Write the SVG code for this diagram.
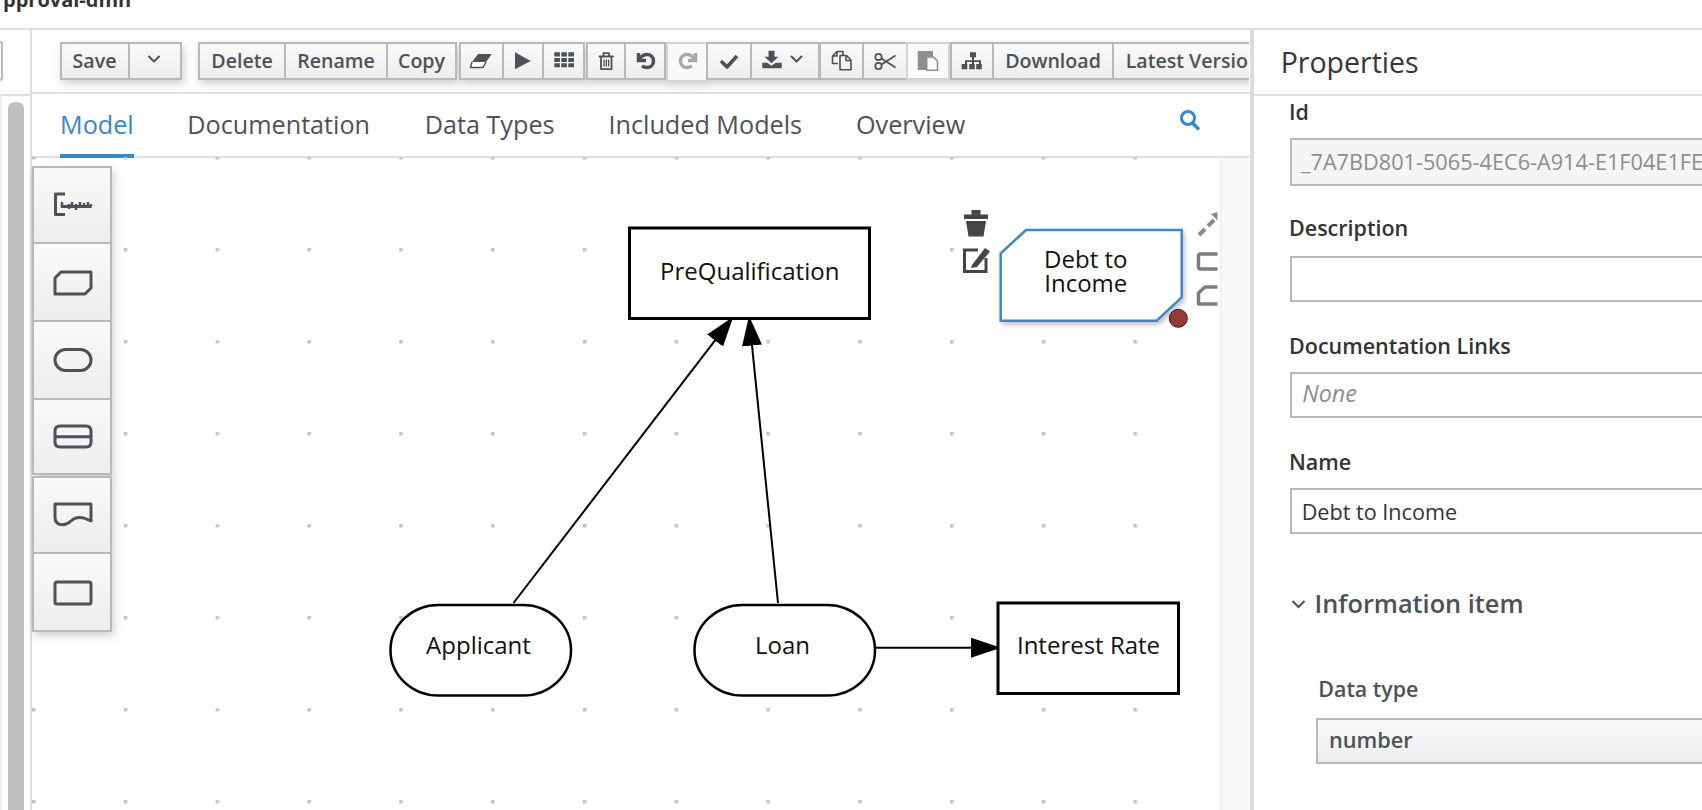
<svg xmlns="http://www.w3.org/2000/svg" width="1702" height="810" viewBox="0 0 1702 810">
<style>
text{font-family:"Open Sans","Noto Sans","Liberation Sans",sans-serif}
.rule{stroke:#dfdfdf;stroke-width:2;fill:none}
.btn{fill:url(#btnGrad);stroke:#b9b9b9;stroke-width:2}
.btnOff{fill:#fafafa;stroke:#d4d4d4;stroke-width:2}
.bt{font-size:19.600px;fill:#4d5258;text-anchor:middle;font-weight:600}
.tab{font-size:25.200px;fill:#4d5258}
.ic{fill:#4d5258}
.icl{fill:none;stroke:#4d5258;stroke-width:2;stroke-linejoin:round;stroke-linecap:round}
.pal{fill:url(#btnGrad);stroke:#b9b9b9;stroke-width:2}
.pi{fill:none;stroke:#4d5258;stroke-width:3;stroke-linejoin:round}
.node{fill:#fff;stroke:#000;stroke-width:3}
.nt{font-size:24px;fill:#111;text-anchor:middle}
.conn{stroke:#000;stroke-width:2;fill:none}
.lbl{font-size:21.500px;font-weight:600;fill:#333}
.inp{fill:#fff;stroke:#b9b9b9;stroke-width:2}
.side{fill:none;stroke:#7d7d7d;stroke-width:3.500;stroke-linejoin:round}
</style>
<defs>
<linearGradient id="btnGrad" x1="0" y1="0" x2="0" y2="1"><stop offset="0" stop-color="#fafafa"/><stop offset="1" stop-color="#ededed"/></linearGradient>
<pattern id="dots" patternUnits="userSpaceOnUse" x="32" y="64" width="91.8" height="92"><rect x="0" y="0" width="3.500" height="3.500" fill="#c4c4c4"/></pattern>
<marker id="head" viewBox="0 0 30 20" refX="30" refY="10" markerUnits="userSpaceOnUse" markerWidth="30" markerHeight="20" orient="auto"><path d="M0 0L30 10L0 20Z" fill="#000"/></marker>
<filter id="sh" x="-20%" y="-20%" width="140%" height="150%"><feDropShadow dx="2" dy="4" stdDeviation="4" flood-color="#000" flood-opacity="0.18"/></filter>
<filter id="shs" x="-10%" y="-10%" width="120%" height="130%"><feDropShadow dx="2" dy="3" stdDeviation="2" flood-color="#000" flood-opacity="0.22"/></filter>
<clipPath id="tbClip"><rect x="0" y="30" width="1249" height="70"/></clipPath>
<clipPath id="sideClip"><rect x="1190" y="200" width="27.500" height="120"/></clipPath>
</defs>
<rect width="1702" height="810" fill="#fff"/>
<text x="3" y="7" font-size="20" font-weight="700" fill="#333">pproval-dmn</text>

<g id="frame">
<rect x="1221" y="157" width="29" height="653" fill="#fafafa"/>
<path class="rule" d="M0 29H1702M0 95H31M31 29V810M31 93H1251M31 157H1249M1254 95H1702"/>
<path d="M1221 157V810" stroke="#eee" stroke-width="1.500"/>
<rect x="1250" y="29" width="4" height="781" fill="#dcdcdc"/>
<rect x="0" y="95" width="2" height="715" fill="#efefef"/>
<path d="M8 810V110Q8 102 16 102Q24 102 24 110V810Z" fill="#c0c0c0"/>
<path d="M0 42H1Q2 42 2 44V78Q2 80 0 80" fill="none" stroke="#bbb" stroke-width="2"/>
</g>

<g id="toolbar" clip-path="url(#tbClip)">
<g filter="url(#sh)">
<rect class="btn" x="61" y="43" width="68" height="36"/><rect class="btn" x="129" y="43" width="52" height="36"/>
<rect class="btn" x="199" y="43" width="86" height="36"/><rect class="btn" x="285" y="43" width="102" height="36"/><rect class="btn" x="387" y="43" width="69" height="36"/>
<rect class="btn" x="460" y="43" width="43" height="36"/><rect class="btn" x="503" y="43" width="40" height="36"/><rect class="btn" x="543" y="43" width="41" height="36"/>
<rect class="btn" x="587" y="43" width="38" height="36"/><rect class="btn" x="625" y="43" width="40" height="36"/>
<rect class="btnOff" x="667" y="43" width="40" height="38"/>
<rect class="btn" x="707" y="43" width="44" height="36"/><rect class="btn" x="751" y="43" width="68" height="36"/>
<rect class="btn" x="820" y="43" width="43" height="36"/><rect class="btn" x="863" y="43" width="44" height="36"/>
<rect class="btnOff" x="907" y="43" width="42" height="36"/>
<rect class="btn" x="951" y="43" width="42" height="36"/><rect class="btn" x="993" y="43" width="120" height="36"/><rect class="btn" x="1113" y="43" width="160" height="36"/>
</g>
<text class="bt" x="94.500" y="68">Save</text>
<text class="bt" x="242" y="68">Delete</text>
<text class="bt" x="336" y="68">Rename</text>
<text class="bt" x="421.500" y="68">Copy</text>
<text class="bt" x="1053" y="68">Download</text>
<text class="bt" x="1125.700" y="68" style="text-anchor:start">Latest Version</text>
<path class="icl" d="M149 56.500L154 61.500L159 56.500M791.500 56.500L796.500 61.500L801.500 56.500"/>
<path class="ic" d="M478 54H491.700L486 62H472Z"/><path d="M472 62L470.500 67.500H483L486 62" fill="#fff" stroke="#4d5258" stroke-width="1.500" stroke-linejoin="round"/>
<path class="ic" d="M515 52.300L530.700 61L515 69.300Z"/>
<path class="ic" d="M554.300 52.300h5.600v4.200h-5.600zM561.300 52.300h5.600v4.200h-5.600zM568.300 52.300h5.700v4.200h-5.700zM554.300 58h5.600v4h-5.600zM561.300 58h5.600v4h-5.600zM568.300 58h5.700v4h-5.700zM554.300 63.300h5.600v4h-5.600zM561.300 63.300h5.600v4h-5.600zM568.300 63.300h5.700v4h-5.700z"/>
<path class="icl" style="stroke-width:1.800" d="M599.500 56.500H613M603.500 56V53.200H609V56M601 56.500V69.200H611.500V56.500"/>
<path d="M604 59.500V66.500M606.300 59.500V66.500M608.600 59.500V66.500" stroke="#4d5258" stroke-width="1.300"/>
<path d="M638.500 53V60.500H646" fill="none" stroke="#4d5258" stroke-width="3.500"/>
<path d="M640 58.500C642 55.500 644.500 54.500 647 54.500C651 54.500 653.500 57.500 653.500 61C653.500 65 650.500 67.500 647 67.500C645 67.500 643.500 67 642 66" fill="none" stroke="#4d5258" stroke-width="3.500"/>
<path d="M695.500 53V60.500H688" fill="none" stroke="#a8a8a8" stroke-width="3.500"/>
<path d="M694 58.500C692 55.500 689.500 54.500 687 54.500C683 54.500 680.500 57.500 680.500 61C680.500 65 683.500 67.500 687 67.500C689 67.500 690.500 67 692 66" fill="none" stroke="#a8a8a8" stroke-width="3.500"/>
<path class="icl" style="stroke-width:3.600;stroke-linecap:butt" d="M721 61L727 67L737 56"/>
<path class="ic" d="M768.500 50.700h6v6h4l-7 6.500l-7-6.500h4zM762.300 62.700h5l4.200 3l4.200-3h6v5.500h-19.400z"/>
<path d="M838 63.500H832.500V56L837 51.500H843V55M837 51.500V56H832.500" fill="none" stroke="#4d5258" stroke-width="1.600" stroke-linejoin="round"/>
<path d="M840 55.500H846.500L851 60V69.800H840ZM846 55.500V60.500H851" fill="none" stroke="#4d5258" stroke-width="1.600" stroke-linejoin="round"/>
<g fill="none" stroke="#4d5258" stroke-width="1.700"><circle cx="878.500" cy="57" r="3.200"/><circle cx="878.500" cy="66" r="3.200"/><path d="M881.500 58.500L895.500 67.500M881.500 64.500L895.500 55.500"/></g>
<path d="M917.700 51H933V56.700H926.700V70H917.700Z" fill="#8f8f8f"/><path d="M926.700 57H933.500L937.500 61V70.300H926.700Z" fill="#fafafa" stroke="#8f8f8f" stroke-width="1.500"/>
<path class="ic" d="M970 52.300h6v5h-6zM972 57.300h2v3h7v3.700h-2v-2h-5v2h-2v-2h-5v2h-2v-3.700h7zM961.700 64h5.600v5.300h-5.600zM969.200 64h5.600v5.300h-5.600zM976.200 64h5.600v5.300h-5.600z"/>
</g>

<g id="tabs">
<text class="tab" x="60" y="134" style="fill:#3a87c8">Model</text>
<rect x="60" y="154" width="74" height="4" fill="#3a87c8"/>
<text class="tab" x="187.300" y="134">Documentation</text>
<text class="tab" x="424.700" y="134">Data Types</text>
<text class="tab" x="608.500" y="134">Included Models</text>
<text class="tab" x="856" y="134">Overview</text>
<circle cx="1188" cy="118" r="6.500" fill="none" stroke="#3a87c8" stroke-width="3"/><path d="M1192.500 123L1199 129.500" stroke="#3a87c8" stroke-width="3.600"/>
</g>

<rect id="grid" x="30" y="157" width="1191" height="653" fill="url(#dots)"/>

<g id="palette">
<g filter="url(#sh)">
<rect class="pal" x="33" y="167" width="78" height="76"/><rect class="pal" x="33" y="243" width="78" height="78"/><rect class="pal" x="33" y="321" width="78" height="78"/><rect class="pal" x="33" y="399" width="78" height="75"/><rect class="pal" x="33" y="477" width="78" height="76"/><rect class="pal" x="33" y="553" width="78" height="78"/>
</g>
<path class="pi" d="M65 194H55.500V214.500H65"/>
<path d="M60.700 206.500H91.700" stroke="#4d5258" stroke-width="3"/>
<path d="M62 202V206M69 204V209M72 202V206M76 204V210M80 202V206M84 203V206M88 202V206M91 204V206" stroke="#4d5258" stroke-width="2.500" fill="none"/>
<path class="pi" d="M61 272H91V288L85 294H55V278Z"/>
<rect class="pi" x="55" y="349.500" width="36" height="21" rx="10.500"/>
<path class="pi" d="M60 426H86Q91 426 91 431V442Q91 447 86 447H60Q55 447 55 442V431Q55 426 60 426ZM55 436.700H91"/>
<path class="pi" d="M55 504H91V521C82 516 76 516 71 521C66 526 55 527 55 517Z"/>
<rect class="pi" x="55" y="582" width="36" height="22" rx="2"/>
</g>

<g id="connectors">
<line id="c-applicant-prequal" class="conn" x1="513.500" y1="603" x2="733.300" y2="316.700" marker-end="url(#head)"/>
<line id="c-loan-prequal" class="conn" x1="778" y1="603" x2="749" y2="315.700" marker-end="url(#head)"/>
<line id="c-loan-interest" class="conn" x1="874" y1="647.700" x2="1001" y2="647.700" marker-end="url(#head)"/>
</g>

<g id="node-prequalification"><rect class="node" x="629.500" y="228" width="240" height="90.500"/><text class="nt" x="749.700" y="280">PreQualification</text></g>
<g id="node-applicant"><rect class="node" style="stroke-width:2.500" x="390.500" y="605" width="180.500" height="90.500" rx="48" ry="45"/><text class="nt" x="478.500" y="654">Applicant</text></g>
<g id="node-loan"><rect class="node" style="stroke-width:2.500" x="694.500" y="605" width="180.500" height="90.500" rx="48" ry="45"/><text class="nt" x="782.500" y="654">Loan</text></g>
<g id="node-interest-rate"><rect class="node" x="998" y="603" width="180.500" height="90.500"/><text class="nt" x="1088.500" y="654">Interest Rate</text></g>
<g id="node-debt-to-income">
<path d="M1000.700 253.300L1026 230H1181.700V297.300L1156.700 320.700H1000.700Z" fill="#fff" stroke="#3a87c8" stroke-width="2.500" filter="url(#shs)"/>
<text class="nt" x="1085.800" y="268">Debt to</text><text class="nt" x="1085.800" y="291.700">Income</text>
<circle cx="1178.300" cy="318.300" r="9" fill="#953a36" stroke="#3d1a18" stroke-width="1"/>
</g>

<g id="node-actions">
<path d="M964 219H988V214.500H980.500V210H971.500V214.500H964ZM966 221H986L983.500 236.500H968.500Z" fill="#444"/>
<path d="M986 258V271.500H964.500V250H978" fill="none" stroke="#444" stroke-width="3"/>
<path d="M972 265L985 248L990 251.500L977 267L971 268Z" fill="#444"/>
<g clip-path="url(#sideClip)">
<path d="M1199 235L1205 229M1208 226L1214 220" fill="none" stroke="#8a8a8a" stroke-width="4"/><path d="M1211 214L1222 211L1219 222Z" fill="#8a8a8a"/>
<rect class="side" x="1198.500" y="254" width="40" height="15" rx="2"/>
<path class="side" d="M1198.500 304V293L1205 287H1240V304Z"/>
</g>
</g>

<g id="properties">
<text x="1280.700" y="73.300" font-size="28.500" fill="#363636">Properties</text>
<text class="lbl" x="1289" y="120">Id</text>
<rect x="1291" y="139" width="420" height="46" fill="#f5f5f5" stroke="#b9b9b9" stroke-width="2"/>
<text x="1301" y="170" font-size="21.700" fill="#8b8d8f">_7A7BD801-5065-4EC6-A914-E1F04E1FE</text>
<text class="lbl" x="1289" y="236">Description</text>
<rect class="inp" x="1291" y="257" width="420" height="44"/>
<text class="lbl" x="1289" y="354">Documentation Links</text>
<rect class="inp" x="1291" y="373" width="420" height="44"/>
<text x="1302.300" y="401.700" font-size="23.300" font-style="italic" fill="#8b8d8f">None</text>
<text class="lbl" x="1289" y="470">Name</text>
<rect class="inp" x="1291" y="489" width="420" height="44"/>
<text x="1301.700" y="520" font-size="21.600" fill="#333">Debt to Income</text>
<path d="M1292.500 601L1298.500 607L1304.500 601" fill="none" stroke="#4d5258" stroke-width="2"/>
<text x="1314.500" y="613.300" font-size="25.300" font-weight="600" fill="#4d5258">Information item</text>
<text x="1318.300" y="697.300" font-size="21.400" font-weight="600" fill="#4d5258">Data type</text>
<rect x="1317" y="719" width="400" height="44" fill="url(#btnGrad)" stroke="#b9b9b9" stroke-width="2"/>
<text x="1329" y="747.700" font-size="21.700" font-weight="600" fill="#4d5258">number</text>
</g>
</svg>
